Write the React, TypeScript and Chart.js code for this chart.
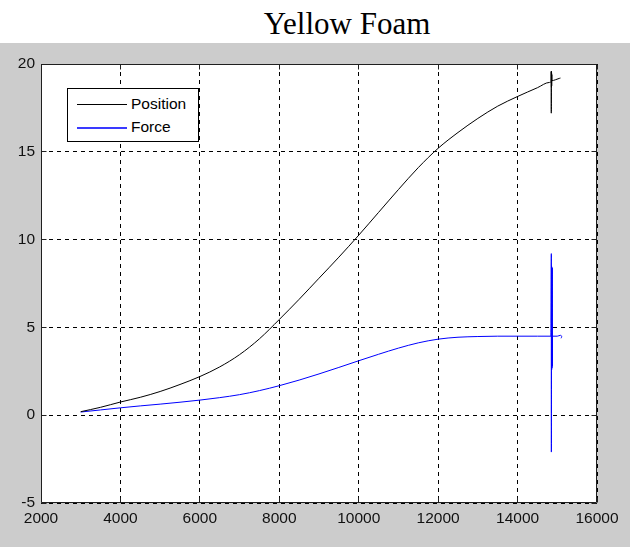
import React, { useEffect, useRef } from "react";
import { Chart, registerables } from "chart.js";

Chart.register(...registerables);

const chartTitle = "Yellow Foam";
const seriesLabels = ["Position", "Force"];

const xTicks = [2000, 4000, 6000, 8000, 10000, 12000, 14000, 16000];
const yTicks = [-5, 0, 5, 10, 15, 20];

const posX = [
  3000, 3500, 4000, 4500, 5000, 5500, 6000, 6500, 7000, 7500, 8000, 8500, 9000,
  9500, 10000, 10500, 11000, 11500, 12000, 12500, 13000, 13500, 14000, 14500,
  14800, 14846, 14848, 14849, 14851, 14853, 14856, 14859, 14862, 14865, 14950,
  15050, 15080,
];
const posY = [
  0.2, 0.45, 0.75, 1.02, 1.35, 1.75, 2.2, 2.75, 3.45, 4.35, 5.45, 6.6, 7.8,
  9.0, 10.25, 11.55, 12.85, 14.1, 15.2, 16.1, 16.9, 17.6, 18.15, 18.65,
  18.95, 19.0, 19.56, 17.2, 19.6, 18.7, 19.5, 18.75, 19.4, 19.05, 19.1,
  19.18, 19.2,
];

const forceX = [
  3000, 3500, 4000, 4500, 5000, 5500, 6000, 6500, 7000, 7500, 8000, 8500, 9000,
  9500, 10000, 10500, 11000, 11500, 12000, 12500, 13000, 13500, 14000, 14500,
  14840, 14850, 14851, 14853, 14856, 14860, 14864, 14868, 14872, 14875, 14878,
  15000, 15080, 15120, 15095,
];
const forceY = [
  0.18, 0.3, 0.42, 0.53, 0.63, 0.74, 0.86, 1.0, 1.17, 1.4, 1.68, 2.0, 2.35,
  2.72, 3.1, 3.47, 3.82, 4.12, 4.33, 4.44, 4.48, 4.5, 4.5, 4.5,
  4.5, 9.2, -2.1, 4.5, 8.5, 2.6, 8.4, 2.7, 8.4, 2.8, 4.5,
  4.5, 4.55, 4.48, 4.38,
];

const seriesColors = ["#000000", "#0000ff"];
const legendColors = ["#000000", "#3a3aff"];

export default function App() {
  const ref = useRef<HTMLCanvasElement>(null);

  useEffect(() => {
    const canvas = ref.current;
    if (!canvas) return;

    const framePlugin = {
      id: "matlabFrame",
      beforeDraw(chart: any) {
        const { ctx, chartArea: a } = chart;
        ctx.save();
        ctx.fillStyle = "#ffffff";
        ctx.fillRect(a.left, a.top, a.right - a.left, a.bottom - a.top);
        ctx.restore();
      },
      afterDraw(chart: any) {
        const { ctx, chartArea: a, scales } = chart;
        ctx.save();
        ctx.strokeStyle = "#1f1f1f";
        ctx.lineWidth = 1;
        ctx.setLineDash([]);
        const L = a.left + 0.5;
        const R = a.right - 0.5;
        const T = a.top + 0.5;
        const B = a.bottom - 0.5;
        const tl = 5;
        ctx.beginPath();
        ctx.rect(L, T, R - L, B - T);
        xTicks.forEach((v) => {
          const px = Math.round(scales.x.getPixelForValue(v) - 0.5) + 0.5;
          ctx.moveTo(px, B);
          ctx.lineTo(px, B - tl);
          ctx.moveTo(px, T);
          ctx.lineTo(px, T + tl);
        });
        yTicks.forEach((v) => {
          const py = Math.round(scales.y.getPixelForValue(v) - 0.5) + 0.5;
          ctx.moveTo(L, py);
          ctx.lineTo(L + tl, py);
          ctx.moveTo(R, py);
          ctx.lineTo(R - tl, py);
        });
        ctx.stroke();
        ctx.restore();
      },
    };

    const tickFont = { family: "'Liberation Sans', Arial, sans-serif", size: 15.5 };

    const chart = new Chart(canvas, {
      type: "line",
      data: {
        datasets: [
          {
            label: seriesLabels[0],
            data: posX.map((x, i) => ({ x, y: posY[i] })),
            borderColor: seriesColors[0],
            borderWidth: 1,
            pointRadius: 0,
            fill: false,
            cubicInterpolationMode: "monotone",
          },
          {
            label: seriesLabels[1],
            data: forceX.map((x, i) => ({ x, y: forceY[i] })),
            borderColor: seriesColors[1],
            borderWidth: 1,
            pointRadius: 0,
            fill: false,
            cubicInterpolationMode: "monotone",
          },
        ],
      },
      options: {
        responsive: false,
        animation: false,
        devicePixelRatio: 1,
        layout: { padding: { left: 0, right: 33, top: 21, bottom: 0 } },
        plugins: {
          legend: { display: false },
          title: { display: false },
          tooltip: { enabled: false },
        },
        scales: {
          x: {
            type: "linear",
            min: 2000,
            max: 16000,
            afterFit: (s: any) => {
              s.height = 44;
            },
            afterBuildTicks: (s: any) => {
              s.ticks = xTicks.map((v) => ({ value: v }));
            },
            ticks: {
              autoSkip: false,
              maxRotation: 0,
              padding: 6,
              color: "#111111",
              font: tickFont,
              callback: (v: any) => String(v),
            },
            grid: {
              color: "#000000",
              lineWidth: 1,
              drawTicks: false,
            },
            border: { display: false, dash: [4, 4] },
          },
          y: {
            type: "linear",
            min: -5,
            max: 20,
            afterFit: (s: any) => {
              s.width = 41;
            },
            afterBuildTicks: (s: any) => {
              s.ticks = yTicks.map((v) => ({ value: v }));
            },
            ticks: {
              autoSkip: false,
              padding: 6,
              color: "#111111",
              font: tickFont,
              callback: (v: any) => String(v),
            },
            grid: {
              color: "#000000",
              lineWidth: 1,
              drawTicks: false,
            },
            border: { display: false, dash: [4, 4] },
          },
        },
      },
      plugins: [framePlugin],
    } as any);

    return () => chart.destroy();
  }, []);

  const legendFont = "15.5px 'Liberation Sans', Arial, sans-serif";

  return (
    <div
      style={{
        position: "absolute",
        left: 0,
        top: 0,
        width: 630,
        height: 547,
        background: "#ffffff",
        overflow: "hidden",
      }}
    >
      <div
        style={{
          position: "absolute",
          left: 147,
          top: 8,
          width: 400,
          textAlign: "center",
          font: "31px 'Liberation Serif', 'Times New Roman', serif",
          lineHeight: "31px",
          color: "#000",
          whiteSpace: "nowrap",
        }}
      >
        {chartTitle}
      </div>
      <canvas
        ref={ref}
        width={630}
        height={504}
        style={{
          position: "absolute",
          left: 0,
          top: 43,
          width: 630,
          height: 504,
          background: "#cccccc",
        }}
      />
      <div
        style={{
          position: "absolute",
          left: 67,
          top: 88,
          width: 132,
          height: 54,
          boxSizing: "border-box",
          border: "1px solid #000",
          background: "#ffffff",
        }}
      />
      {seriesLabels.map((lab, i) => {
        const cy = i === 0 ? 104 : 127.5;
        return (
          <React.Fragment key={lab}>
            <div
              style={{
                position: "absolute",
                left: 77,
                top: Math.floor(cy),
                width: 50,
                height: i === 0 ? 1 : 2,
                background: legendColors[i],
              }}
            />
            <div
              style={{
                position: "absolute",
                left: 131,
                top: cy - 9.5,
                font: legendFont,
                lineHeight: "18px",
                color: "#000",
                whiteSpace: "nowrap",
              }}
            >
              {lab}
            </div>
          </React.Fragment>
        );
      })}
    </div>
  );
}
